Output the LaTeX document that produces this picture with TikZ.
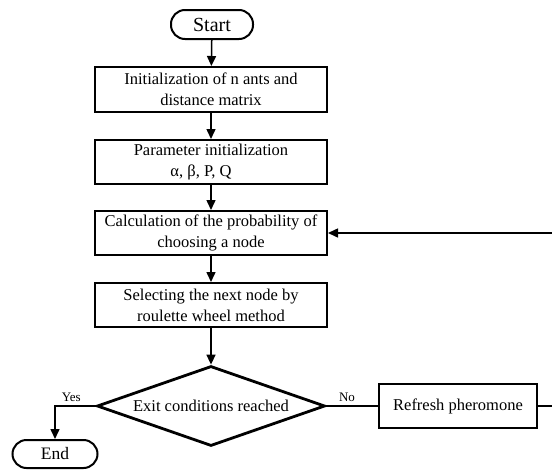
\documentclass[tikz,border=0pt]{standalone}
\usepackage{fontspec}
\setmainfont{Liberation Serif}
\usetikzlibrary{arrows.meta,shapes.geometric}
\tikzset{
    base/.style={draw=black,line width=2pt,align=center,font=\fontsize{16.5}{21}\selectfont},
    startstop/.style={base,rectangle,rounded corners=14pt,minimum height=29pt,inner sep=0pt},
    process/.style={base,rectangle,minimum width=232pt,minimum height=44pt,inner sep=0pt},
    decision/.style={base,diamond,aspect=2.85,line width=2.8pt,minimum width=228pt,minimum height=80pt,inner sep=0pt},
    flow/.style={line width=1.5pt,-{Triangle[length=10pt,width=9pt]}},
    plain/.style={line width=1.5pt},
    answer/.style={font=\fontsize{13}{15}\selectfont}
}
\begin{document}
\begin{tikzpicture}[x=1pt,y=-1pt]
\useasboundingbox (0,0) rectangle (552,469);
% boxes
\node[startstop,minimum width=82pt,font=\fontsize{20}{24}\selectfont] (start) at (212,24.5) {Start};
\node[process,minimum height=45pt] (init) at (211,89.5) {Initialization of n ants and\\distance matrix};
\node[process] (param) at (211,162) {Parameter initialization\\α, β, P, Q\hspace*{20pt}};
\node[process] (calc) at (211,233) {Calculation of the probability of\\choosing a node};
\node[process] (select) at (211,305) {Selecting the next node by\\roulette wheel method};
\node[decision] (exit) at (211,406) {Exit conditions reached};
\node[process,minimum width=158pt] (refresh) at (458,406) {Refresh pheromone};
\node[startstop,minimum width=85pt,minimum height=28pt,font=\fontsize{17.5}{21}\selectfont] (end) at (55,454) {End};
\coordinate (loop) at (562,406);
% connectors
\draw[flow] (start) -- (init);
\draw[flow] (init) -- (param);
\draw[flow] (param) -- (calc);
\draw[flow] (calc) -- (select);
\draw[flow] (select) -- (exit);
\draw[flow] (exit.west) -| (end.north) node[answer,pos=0.3,above]{Yes};
\draw[plain] (exit.east) -- (refresh.west) node[answer,pos=0.4,above]{No};
\draw[flow] (refresh.east) -- (loop) |- (calc.east);
\end{tikzpicture}
\end{document}
